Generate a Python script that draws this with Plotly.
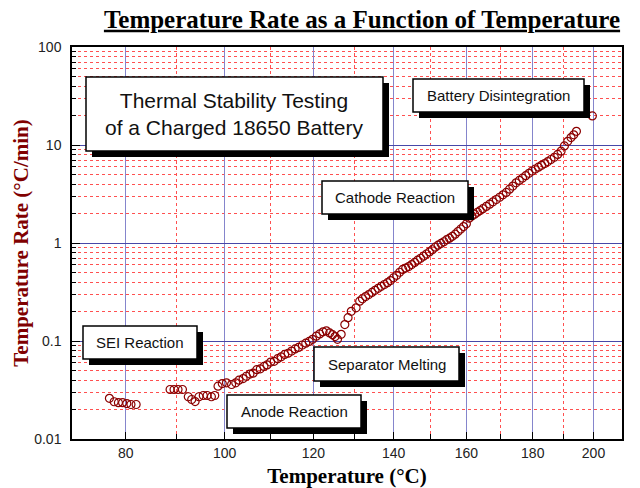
import numpy as np
import plotly.graph_objects as go

# ---------------- data ----------------
temp_c = [
    76.9, 77.8, 78.6, 79.4, 80.2, 81.0, 82.0,
    88.7, 89.5, 90.3, 91.2, 92.4, 93.1, 93.8, 94.6, 95.5, 96.3, 97.2, 97.9,
    98.6, 99.5, 100.4, 101.5, 102.4, 103.1, 104.0, 104.7,
    105.5, 106.2, 107.0, 107.8, 108.6, 109.3, 110.1, 110.9, 111.7, 112.5,
    113.3, 114.1, 114.9, 115.7, 116.5, 117.4, 118.2, 119.0, 119.8,
    120.7, 121.5, 122.3, 123.1, 123.9, 124.6, 125.2, 125.8, 126.7, 127.6,
    128.4, 129.2, 130.4, 131.3,
    132.0, 132.8, 133.6, 134.4, 135.2, 136.0, 136.8, 137.6, 138.4, 139.2,
    140.0, 140.8, 141.6, 142.4, 143.2, 144.0, 144.8, 145.6, 146.4, 147.2,
    148.0, 148.8, 149.6, 150.4, 151.2, 152.0, 152.8, 153.6, 154.4, 155.2,
    156.0, 156.8, 157.6, 158.4, 159.2, 160.0, 160.8, 161.6, 162.4, 163.2,
    164.0, 164.8, 165.8, 166.8, 167.8, 168.8, 169.8, 170.8, 171.8, 172.8,
    173.8, 174.8, 175.8, 176.8, 177.8, 178.8, 179.8, 180.8, 181.8, 182.8,
    183.8, 184.8, 185.8, 186.9, 188.0, 189.1, 190.2, 191.3, 192.4, 193.3,
    194.2, 199.6,
]
rate = [
    0.026, 0.024, 0.0235, 0.0235, 0.023, 0.0225, 0.0225,
    0.032, 0.032, 0.032, 0.032, 0.027, 0.0253, 0.0241, 0.027, 0.0278, 0.0278, 0.027, 0.0278,
    0.0346, 0.0368, 0.0374, 0.036, 0.0374, 0.0398, 0.0414, 0.0437,
    0.046, 0.047, 0.051, 0.052, 0.055, 0.057, 0.061, 0.062, 0.066, 0.069,
    0.073, 0.075, 0.079, 0.083, 0.086, 0.091, 0.095, 0.099, 0.104,
    0.112, 0.118, 0.124, 0.127, 0.121, 0.116, 0.111, 0.104, 0.117, 0.147,
    0.173, 0.201, 0.218, 0.255,
    0.270, 0.284, 0.298, 0.313, 0.329, 0.345, 0.361, 0.377, 0.394, 0.414,
    0.442, 0.468, 0.503, 0.537, 0.555, 0.575, 0.602, 0.633, 0.668, 0.699,
    0.734, 0.772, 0.811, 0.853, 0.906, 0.951, 0.991, 1.03, 1.08, 1.12,
    1.17, 1.23, 1.31, 1.39, 1.47, 1.57, 1.79, 1.89, 1.97, 2.06,
    2.14, 2.24, 2.36, 2.49, 2.63, 2.78, 2.93, 3.10, 3.28, 3.54,
    3.81, 4.11, 4.35, 4.60, 4.86, 5.14, 5.43, 5.69, 5.94, 6.20,
    6.47, 6.78, 7.11, 7.50, 8.01, 8.64, 9.79, 10.9, 11.9, 12.7,
    13.8, 19.8,
]
x_major_labels = [80, 100, 120, 140, 160, 180, 200]
x_minor_labels = [90, 110, 130, 150, 170, 190]
x_range_c = [70, 210]
y_major_vals = [0.01, 0.1, 1, 10, 100]
y_major_text = ["0.01", "0.1", "1", "10", "100"]
callout_texts = [
    "Thermal Stability Testing<br>of a Charged 18650 Battery",
    "Battery Disintegration",
    "Cathode Reaction",
    "SEI Reaction",
    "Separator Melting",
    "Anode Reaction",
]


def inv_kelvin(t):
    """Arrhenius-type axis: -1000/T(K), so temperature grows to the right."""
    return -1000.0 / (np.asarray(t, dtype=float) + 273.15)


# ---------------- layout geometry (pixels) ----------------
W, H = 640, 488
PL, PR, PT, PB = 72, 622, 47, 439


def fx(px):
    return (px - PL) / (PR - PL)


def fy(py):
    return (PB - py) / (PB - PT)


box_geom = [  # left, top, right, bottom, font size
    (86, 77, 383, 151, 21),
    (413, 79, 584, 112, 15),
    (322, 181, 468, 214, 15),
    (83, 326, 197, 359, 15),
    (314, 347, 459, 381, 15),
    (227, 395, 361, 428, 15),
]
SH = 6  # shadow offset

y_minor_vals = [m * 10.0 ** e for e in range(-2, 2) for m in range(2, 10)]

fig = go.Figure()
fig.add_trace(go.Scatter(
    x=inv_kelvin(temp_c), y=rate, mode="markers",
    marker=dict(symbol="circle-open", size=8, color="#8b0000",
                line=dict(width=1.2, color="#8b0000")),
    showlegend=False, hoverinfo="skip",
))

shapes = []
annotations = []
for (l, t, r, b, fs), txt in zip(box_geom, callout_texts):
    shapes.append(dict(type="rect", xref="paper", yref="paper",
                       x0=fx(l + SH), x1=fx(r + SH), y0=fy(b + SH), y1=fy(t + SH),
                       fillcolor="black", line=dict(width=0), layer="above"))
    shapes.append(dict(type="rect", xref="paper", yref="paper",
                       x0=fx(l), x1=fx(r), y0=fy(b), y1=fy(t),
                       fillcolor="white", line=dict(color="black", width=1.5),
                       layer="above"))
    annotations.append(dict(xref="paper", yref="paper",
                            x=fx((l + r) / 2), y=fy((t + b) / 2),
                            text=txt, showarrow=False, xanchor="center",
                            yanchor="middle",
                            font=dict(family="Liberation Sans, Arial", size=fs,
                                      color="#111")))

tickfont = dict(family="Liberation Sans, Arial", size=14, color="#222")
serif = "Liberation Serif, Times New Roman, serif"

fig.update_layout(
    width=W, height=H, autosize=False,
    margin=dict(l=PL, r=W - PR, t=PT, b=H - PB, autoexpand=False),
    paper_bgcolor="white", plot_bgcolor="white",
    title=dict(text="<b><u>Temperature Rate as a Function of Temperature</u></b>",
               font=dict(family=serif, size=25, color="black"),
               x=362 / W, xref="container", xanchor="center",
               y=1 - 19 / H, yref="container", yanchor="middle"),
    shapes=shapes, annotations=annotations,
    xaxis=dict(
        range=list(inv_kelvin(x_range_c)), automargin=False,
        tickmode="array", tickvals=list(inv_kelvin(x_major_labels)),
        ticktext=[str(v) for v in x_major_labels],
        ticks="inside", ticklen=7, tickcolor="black", tickwidth=1,
        showgrid=True, gridcolor="#8585cc", gridwidth=1,
        showline=True, linecolor="black", linewidth=1.5, mirror=True,
        zeroline=False, tickfont=tickfont, ticklabelstandoff=0,
        minor=dict(tickmode="array", tickvals=list(inv_kelvin(x_minor_labels)),
                   ticks="inside", ticklen=5, tickcolor="black",
                   showgrid=True, gridcolor="#ff5050", griddash="dot",
                   gridwidth=1),
        title=dict(text="<b>Temperature (°C)</b>",
                   font=dict(family=serif, size=21, color="black"), standoff=9),
    ),
    yaxis=dict(
        type="log", range=[-2, 2], automargin=False,
        tickmode="array", tickvals=y_major_vals, ticktext=y_major_text,
        ticks="inside", ticklen=8, tickcolor="black", tickwidth=1,
        showgrid=True, gridcolor="#4848a8", gridwidth=1,
        showline=True, linecolor="black", linewidth=1.5, mirror=True,
        zeroline=False, tickfont=tickfont, ticklabelstandoff=6,
        minor=dict(tickmode="array", tickvals=y_minor_vals,
                   ticks="inside", ticklen=4, tickcolor="black",
                   showgrid=True, gridcolor="#ff5050", griddash="dot",
                   gridwidth=1),
        title=dict(text="<b>Temperature Rate (°C/min)</b>",
                   font=dict(family=serif, size=21, color="#800000"), standoff=0),
    ),
)

fig.write_html("out.html", config={"displayModeBar": False},
               post_script="document.body.style.margin='0';")
